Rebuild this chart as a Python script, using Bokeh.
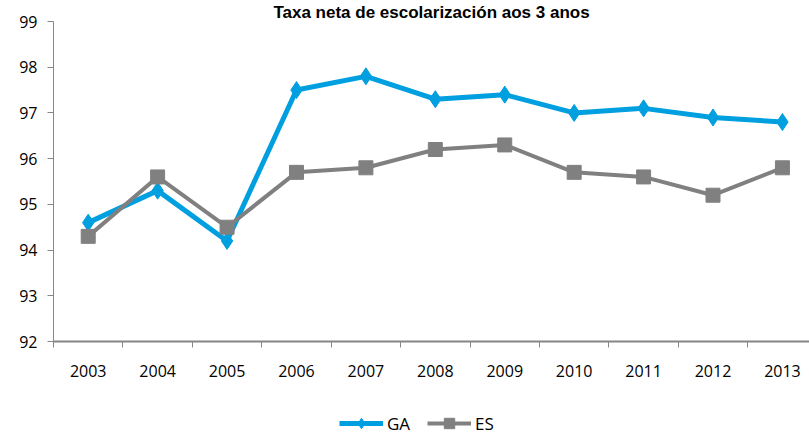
from bokeh.plotting import figure
from bokeh.layouts import column
from bokeh.models import Range1d, FixedTicker, Legend, LegendItem
from bokeh.embed import file_html
from bokeh.resources import INLINE

years = ["2003", "2004", "2005", "2006", "2007", "2008", "2009", "2010", "2011", "2012", "2013"]
ga = [94.6, 95.3, 94.2, 97.5, 97.8, 97.3, 97.4, 97.0, 97.1, 96.9, 96.8]
es = [94.3, 95.6, 94.5, 95.7, 95.8, 96.2, 96.3, 95.7, 95.6, 95.2, 95.8]
y_ticks = [92, 93, 94, 95, 96, 97, 98, 99]
title_text = "Taxa neta de escolarización aos 3 anos"

xs = list(range(len(years)))
FONT = "Open Sans"
BLUE = "#009FDF"
GRAY = "#808080"

p = figure(width=809, height=385, output_backend="svg", toolbar_location=None,
           x_range=Range1d(-0.5, 10.39), y_range=Range1d(92, 99),
           min_border_left=53, min_border_right=0, min_border_top=20, min_border_bottom=44,
           title=title_text)
p.title.align = "center"
p.title.text_font = "Liberation Sans"
p.title.text_font_size = "17px"
p.title.text_font_style = "bold"
p.title.text_color = "#000000"
p.title.standoff = 0
p.outline_line_color = None
p.xgrid.visible = False
p.ygrid.visible = False

# x axis
p.xaxis.ticker = FixedTicker(ticks=xs, minor_ticks=[x - 0.5 for x in xs])
p.xaxis.major_label_overrides = {x: y for x, y in zip(xs, years)}
p.xaxis.major_tick_out = 0
p.xaxis.major_tick_in = 0
p.xaxis.minor_tick_out = 6
p.xaxis.minor_tick_in = 0
p.xaxis.minor_tick_line_color = "#868686"
p.xaxis.axis_line_color = "#868686"
p.xaxis.axis_line_width = 2
p.xaxis.major_label_standoff = 17
p.xaxis.major_label_text_font = FONT
p.xaxis.major_label_text_font_size = "16px"
p.xaxis.major_label_text_color = "#000000"

# y axis
p.yaxis.ticker = FixedTicker(ticks=y_ticks, minor_ticks=[])
p.yaxis.major_tick_out = 6
p.yaxis.major_tick_in = 0
p.yaxis.major_tick_line_color = "#868686"
p.yaxis.axis_line_color = "#868686"
p.yaxis.axis_line_width = 1
p.yaxis.major_label_standoff = 10
p.yaxis.major_label_text_font = FONT
p.yaxis.major_label_text_font_size = "16px"
p.yaxis.major_label_text_color = "#000000"

p.line(xs, ga, line_color=BLUE, line_width=5)
p.scatter(xs, ga, marker="diamond", size=17, fill_color=BLUE, line_color=BLUE)
p.line(xs, es, line_color=GRAY, line_width=4)
p.scatter(xs, es, marker="square", size=14, fill_color=GRAY, line_color=GRAY)

# legend strip below the chart (its series lie outside this strip's ranges)
lg = figure(width=809, height=51, output_backend="svg", toolbar_location=None,
            x_range=Range1d(0, 1), y_range=Range1d(0, 1),
            x_axis_type=None, y_axis_type=None,
            min_border_left=0, min_border_right=0, min_border_top=0, min_border_bottom=0)
lg.outline_line_color = None
lg.xgrid.visible = False
lg.ygrid.visible = False
gl = lg.line(xs, ga, line_color=BLUE, line_width=5)
gm = lg.scatter(xs, ga, marker="diamond", size=17, fill_color=BLUE, line_color=BLUE)
el = lg.line(xs, es, line_color=GRAY, line_width=4)
em = lg.scatter(xs, es, marker="square", size=14, fill_color=GRAY, line_color=GRAY)

legend = Legend(items=[LegendItem(label="GA", renderers=[gl, gm]),
                       LegendItem(label="ES", renderers=[el, em])],
                orientation="horizontal", location=(286, 0),
                glyph_width=44, glyph_height=26, spacing=17, padding=0, margin=0,
                label_standoff=4, border_line_color=None, background_fill_alpha=0,
                label_text_font=FONT, label_text_font_size="17px", label_text_color="#000000")
lg.add_layout(legend, "center")

layout = column(p, lg, spacing=0)

open("out.html", "w").write(file_html(layout, INLINE))
